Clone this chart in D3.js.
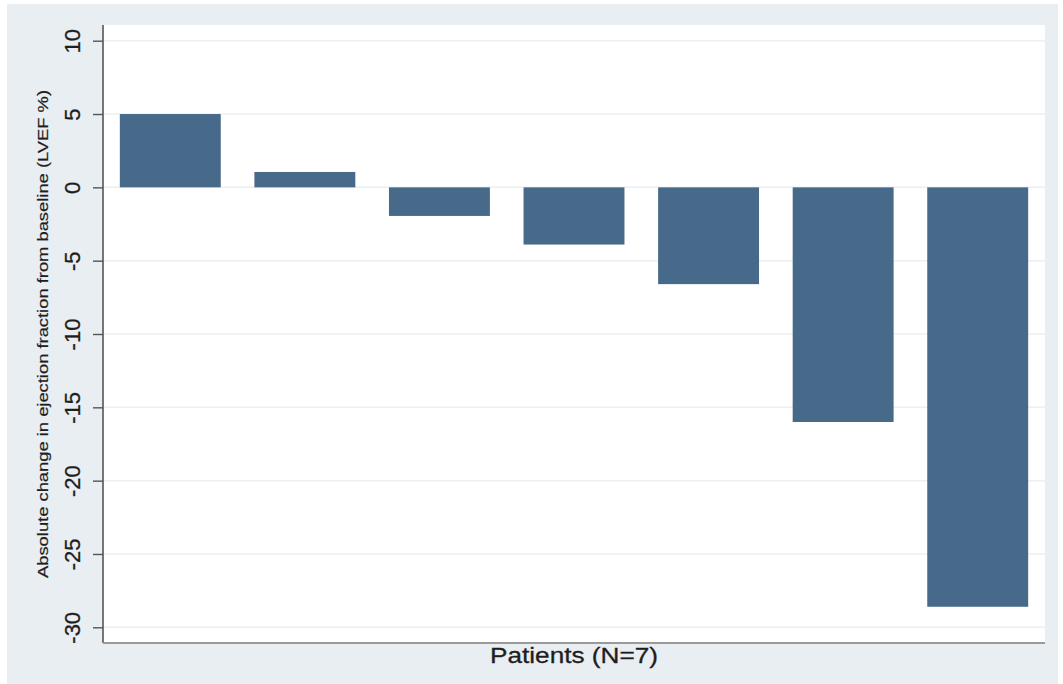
<!DOCTYPE html>
<html>
<head>
<meta charset="utf-8">
<script src="https://cdn.jsdelivr.net/npm/d3@7"></script>
<style>
  html, body { margin: 0; padding: 0; background: #ffffff; }
  svg { display: block; font-family: "Liberation Sans", Arial, sans-serif; }
</style>
</head>
<body>
<svg id="chart" width="1063" height="684"></svg>
<script>
// Absolute change in LVEF per patient
const patients = ["P1", "P2", "P3", "P4", "P5", "P6", "P7"];
const lvefChange = [5, 1.05, -1.95, -3.9, -6.6, -16, -28.6];
const yTicks = [10, 5, 0, -5, -10, -15, -20, -25, -30];
const xTitle = "Patients (N=7)";
const yTitle = "Absolute change in ejection fraction from baseline (LVEF %)";

const svg = d3.select("#chart");
const W = 1063, H = 684;

// outer panel
svg.append("rect")
  .attr("x", 7).attr("y", 4).attr("width", W - 12).attr("height", H - 4)
  .attr("fill", "#e9eef2");

const plot = { left: 103, right: 1045, top: 25, bottom: 643 };

svg.append("rect")
  .attr("x", plot.left).attr("y", plot.top)
  .attr("width", plot.right - plot.left).attr("height", plot.bottom - plot.top)
  .attr("fill", "#ffffff");

const x = d3.scaleBand()
  .domain(patients)
  .range([plot.left, plot.right])
  .paddingInner(0.25)
  .paddingOuter(0.125);

const y = d3.scaleLinear()
  .domain([-30, 10])
  .range([627.3, 40.7]);

// grid lines
svg.append("g")
  .selectAll("line")
  .data(yTicks)
  .join("line")
  .attr("x1", plot.left).attr("x2", plot.right)
  .attr("y1", d => y(d)).attr("y2", d => y(d))
  .attr("stroke", "#eaf0f3").attr("stroke-width", 1.5);

// bars
svg.append("g")
  .selectAll("rect")
  .data(patients.map((p, i) => ({ p, v: lvefChange[i] })))
  .join("rect")
  .attr("x", d => x(d.p))
  .attr("width", x.bandwidth())
  .attr("y", d => y(Math.max(0, d.v)))
  .attr("height", d => Math.abs(y(d.v) - y(0)))
  .attr("fill", "#476a8a");

// y axis (plain hyphen for negative numbers)
const yAxis = d3.axisLeft(y).tickValues(yTicks).tickSize(10).tickPadding(0)
  .tickFormat(d => String(d));
const gy = svg.append("g")
  .attr("transform", `translate(${plot.left},0)`)
  .call(yAxis);
gy.select(".domain")
  .attr("d", `M0,${plot.top}V${plot.bottom}`)
  .attr("stroke", "#555").attr("stroke-width", 1.6);
gy.selectAll(".tick line").attr("stroke", "#555").attr("stroke-width", 1.4);
gy.selectAll(".tick text")
  .attr("transform", "rotate(-90)")
  .attr("x", 0).attr("y", -23)
  .attr("dy", 0)
  .attr("text-anchor", "middle")
  .attr("font-size", 22)
  .attr("fill", "#1e1e1e")
  .attr("stroke", "#1e1e1e").attr("stroke-width", 0.3)
  .attr("font-family", "'Liberation Sans', Arial, sans-serif");

// x axis line
svg.append("line")
  .attr("x1", plot.left).attr("x2", plot.right)
  .attr("y1", plot.bottom).attr("y2", plot.bottom)
  .attr("stroke", "#9a9a9a").attr("stroke-width", 1.8);

// axis titles
svg.append("text")
  .attr("x", 574).attr("y", 663)
  .attr("text-anchor", "middle")
  .attr("font-size", 22)
  .attr("fill", "#1e1e1e")
  .attr("stroke", "#1e1e1e").attr("stroke-width", 0.3)
  .attr("textLength", 168).attr("lengthAdjust", "spacingAndGlyphs")
  .text(xTitle);

svg.append("text")
  .attr("transform", "translate(48,334) rotate(-90)")
  .attr("text-anchor", "middle")
  .attr("font-size", 14)
  .attr("fill", "#1e1e1e")
  .attr("stroke", "#1e1e1e").attr("stroke-width", 0.2)
  .attr("textLength", 488).attr("lengthAdjust", "spacingAndGlyphs")
  .text(yTitle);
</script>
</body>
</html>
